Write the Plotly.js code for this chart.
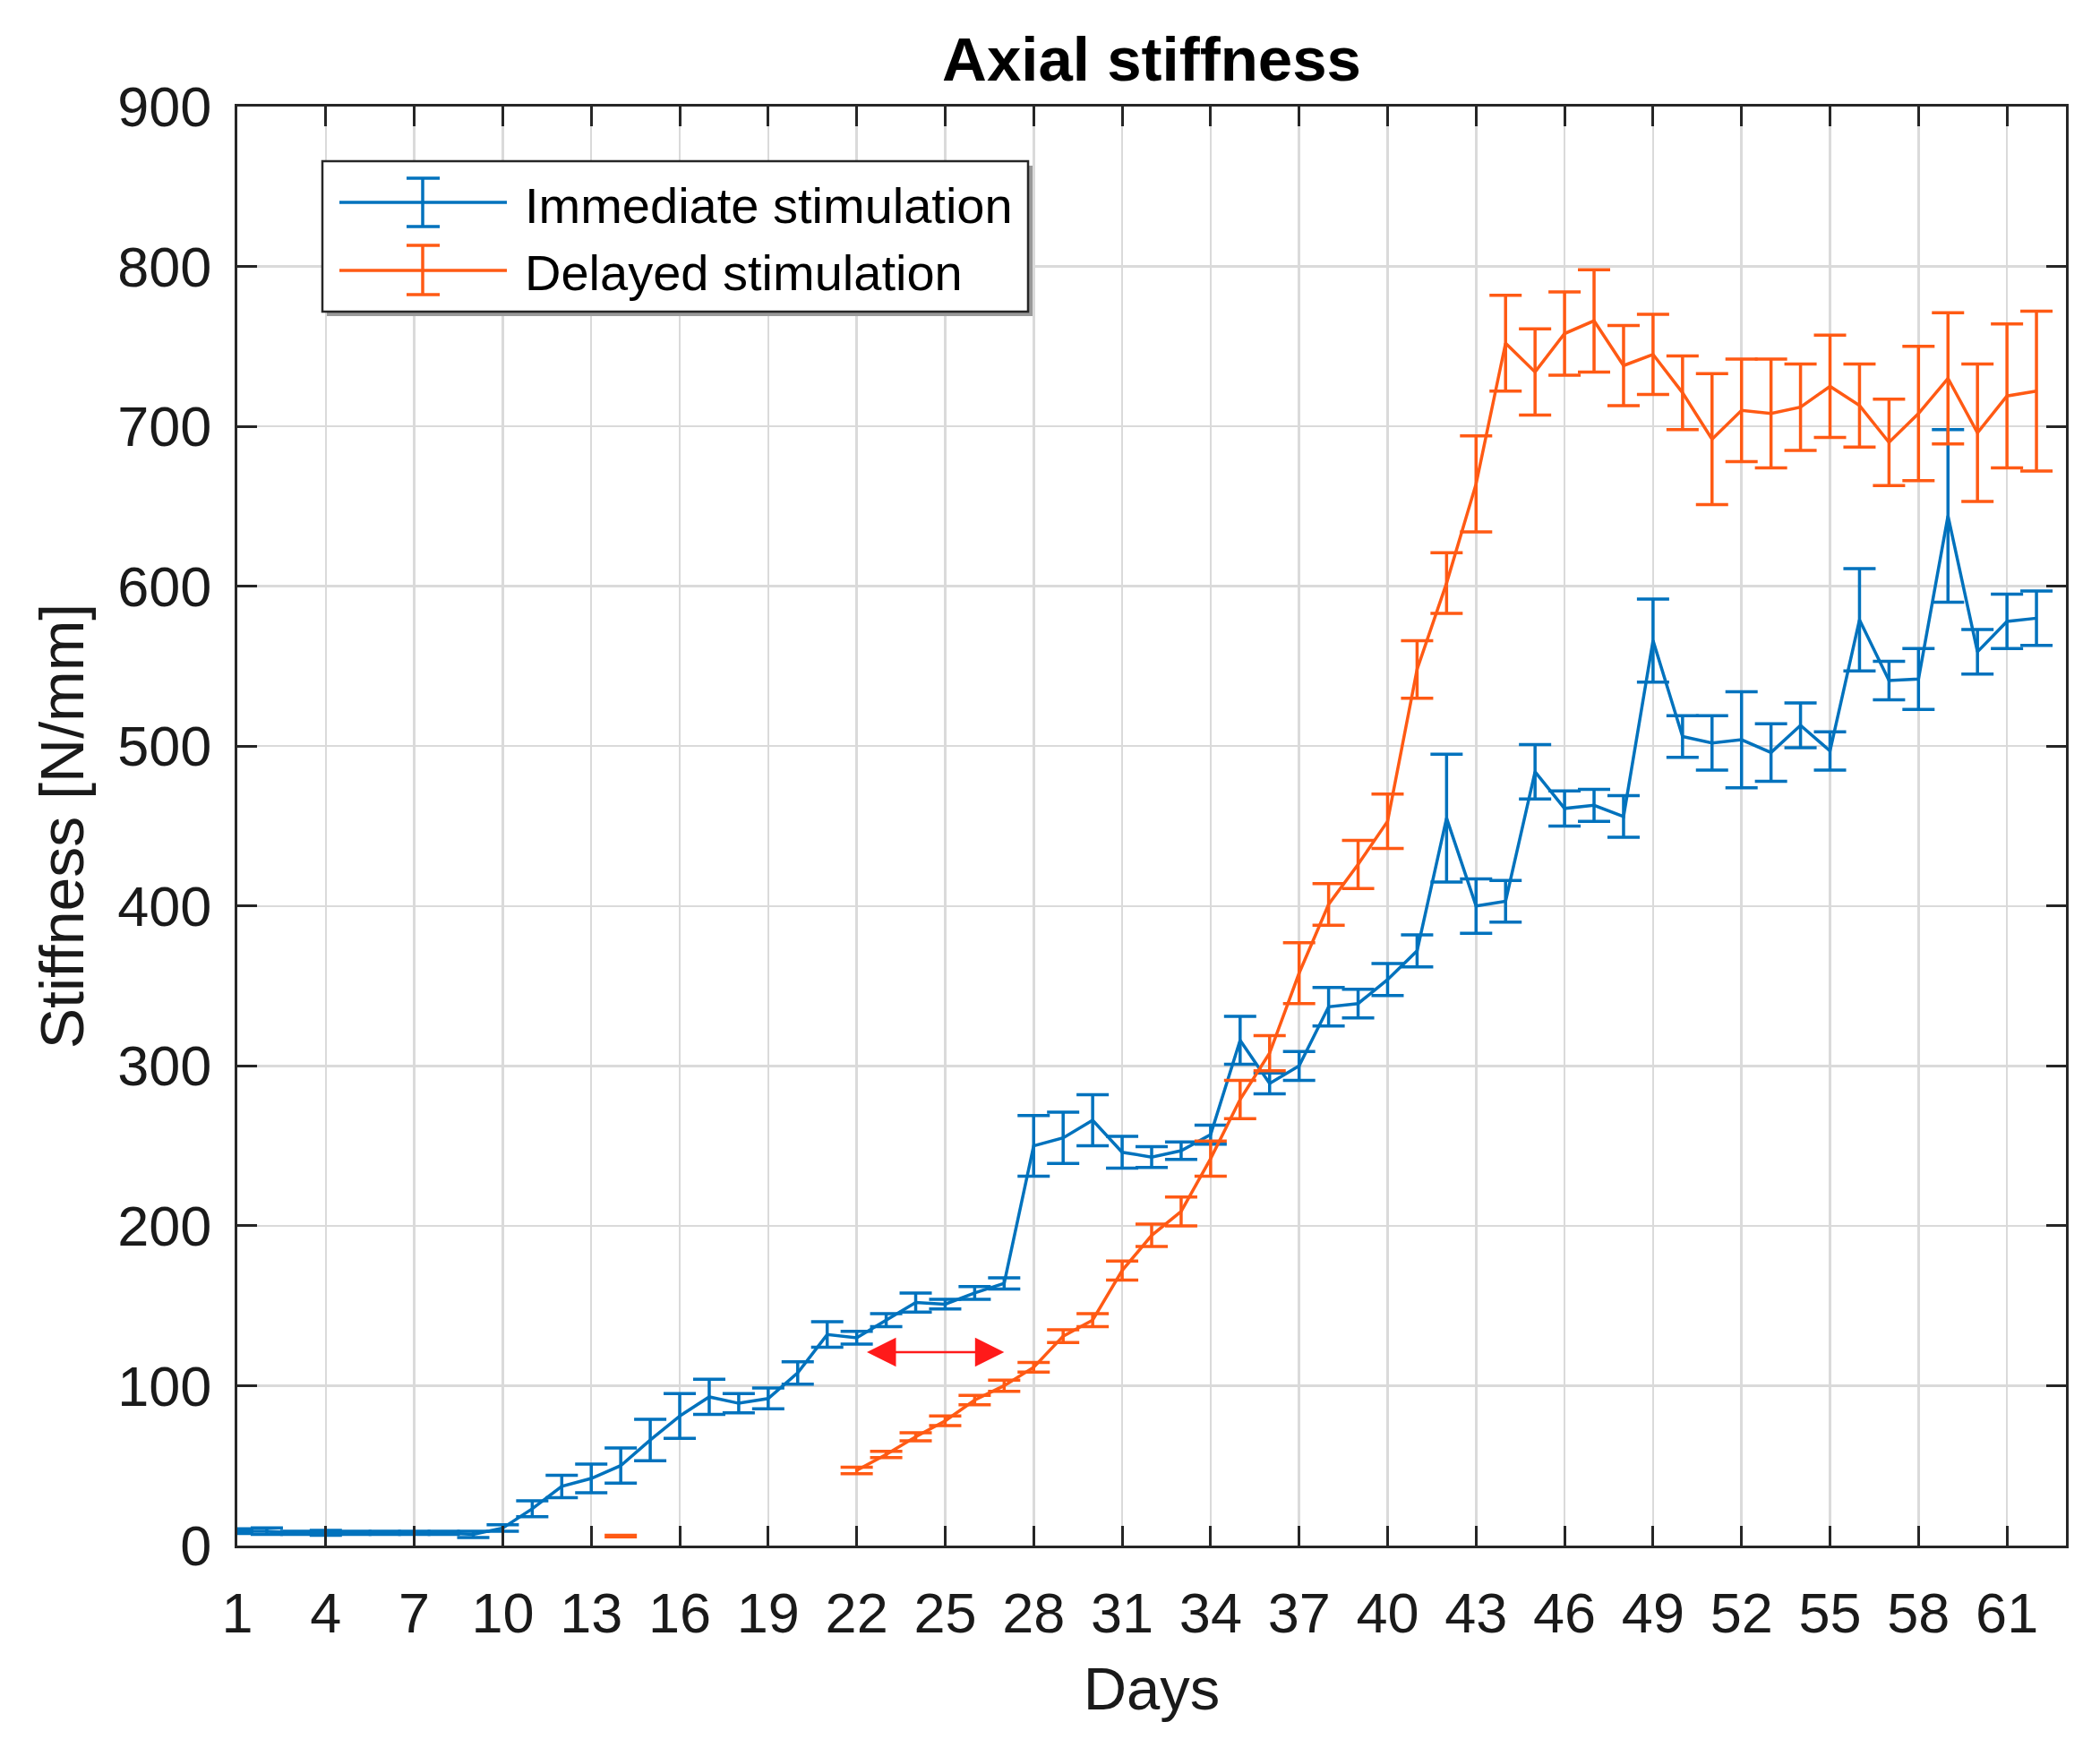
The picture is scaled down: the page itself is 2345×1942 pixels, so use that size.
<!DOCTYPE html>
<html>
<head>
<meta charset="utf-8">
<script src="https://cdn.plot.ly/plotly-3.0.1.min.js"></script>
<style>
  html, body { margin: 0; padding: 0; background: #ffffff; }
  #chart { width: 2345px; height: 1942px; }
</style>
</head>
<body>
<div id="chart"></div>
<script>
// ---------- data ----------
const days = [1,2,3,4,5,6,7,8,9,10,11,12,13,14,15,16,17,18,19,20,21,22,23,24,25,26,27,28,29,30,31,32,33,34,35,36,37,38,39,40,41,42,43,44,45,46,47,48,49,50,51,52,53,54,55,56,57,58,59,60,61,62];

const immediateMean = [9,9,8,8,8,8,8,8,7,11,23,37,42,50,66,81,93,89,92,108,132,130,141,152,151,158,164,250,255,266,246,243,247,257,316,289,300,337,339,354,372,455,400,403,484,461,463,456,566,506,502,504,496,513,497,579,541,542,644,559,578,580];
const immediateErr  = [1.5,2,1,1.5,1,1,1,1,2,2,5,7,9,11,13,14,11,6,6.5,7,8,4,4,6,3,4,3.5,19,16,16,10,6.5,5.5,6,15,6.5,9,12,9,10,10,40,17,13,17,11,10,13,26,13,17,30,18,14,12,32,12,19,54,14,17,17];

const delayedMean = [null,null,null,null,null,null,null,null,null,null,null,null,null,6,null,null,null,null,null,null,null,47,57,68,78,91,100,111.5,131,141,172,194,209,242,279,308,358,401,426,453,548,602,664,752,734,758,766,738,745,721,692,710,708,712,725,713,690,708,730,696,719,722];
const delayedErr  = [0,0,0,0,0,0,0,0,0,0,0,0,0,0.5,0,0,0,0,0,0,0,2,2,2.5,3,3,3.5,3,4,4,6,7,9,11,12,11,19,13,15,17,18,19,30,30,27,26,32,25,25,23,41,32,34,27,32,26,27,42,41,43,45,50];

const seriesNames = ['Immediate stimulation', 'Delayed stimulation'];
const xTickVals = [1,4,7,10,13,16,19,22,25,28,31,34,37,40,43,46,49,52,55,58,61];
const yTickVals = [0,100,200,300,400,500,600,700,800,900];

// delay arrow (days and stiffness level)
const delayArrowDays = [22.3, 27.0];
const delayArrowLevel = 121;

// ---------- styling ----------
const BLUE = '#0072bd';
const ORANGE = '#ff5a14';
const AXIS = '#262626';
const GRID = '#dadada';
const FONT = 'Liberation Sans, Arial, Helvetica, sans-serif';
const LW = 3.5;

const W = 2345, H = 1942;
const M = {l: 265, r: 38, t: 119, b: 216};
const PW = W - M.l - M.r, PH = H - M.t - M.b;
const px = x => (x - M.l) / PW;          // page px -> paper x
const py = y => (H - M.b - y) / PH;      // page px -> paper y

const traces = [
  {
    x: days, y: immediateMean, name: seriesNames[0], type: 'scatter', mode: 'lines',
    line: {color: BLUE, width: LW},
    error_y: {type: 'data', array: immediateErr, visible: true, color: BLUE, thickness: LW, width: 18},
    showlegend: false
  },
  {
    x: days, y: delayedMean, name: seriesNames[1], type: 'scatter', mode: 'lines',
    connectgaps: false,
    line: {color: ORANGE, width: LW},
    error_y: {type: 'data', array: delayedErr, visible: true, color: ORANGE, thickness: LW, width: 18},
    showlegend: false
  }
];

// custom legend with error-bar glyphs
const legendBox = {x0: 360, x1: 1148, y0: 180, y1: 348};
const rows = [
  {color: BLUE, ly: 226, e0: 199, e1: 253, ty: 229, text: seriesNames[0]},
  {color: ORANGE, ly: 302, e0: 274, e1: 329, ty: 305, text: seriesNames[1]}
];
const shapes = [
  {type: 'rect', xref: 'paper', yref: 'paper', layer: 'above',
   x0: px(legendBox.x0 + 5), x1: px(legendBox.x1 + 5), y0: py(legendBox.y0 + 5), y1: py(legendBox.y1 + 5),
   fillcolor: '#9a9a9a', line: {width: 0}},
  {type: 'rect', xref: 'paper', yref: 'paper', layer: 'above',
   x0: px(legendBox.x0), x1: px(legendBox.x1), y0: py(legendBox.y0), y1: py(legendBox.y1),
   fillcolor: '#ffffff', line: {color: AXIS, width: 2.5}}
];
const annotations = [];
rows.forEach(r => {
  shapes.push({type: 'line', xref: 'paper', yref: 'paper', layer: 'above',
    x0: px(379), x1: px(566), y0: py(r.ly), y1: py(r.ly), line: {color: r.color, width: LW}});
  shapes.push({type: 'line', xref: 'paper', yref: 'paper', layer: 'above',
    x0: px(472), x1: px(472), y0: py(r.e0), y1: py(r.e1), line: {color: r.color, width: LW}});
  shapes.push({type: 'line', xref: 'paper', yref: 'paper', layer: 'above',
    x0: px(454), x1: px(491), y0: py(r.e0), y1: py(r.e0), line: {color: r.color, width: LW}});
  shapes.push({type: 'line', xref: 'paper', yref: 'paper', layer: 'above',
    x0: px(454), x1: px(491), y0: py(r.e1), y1: py(r.e1), line: {color: r.color, width: LW}});
  annotations.push({xref: 'paper', yref: 'paper', x: px(584), y: py(r.ty), xanchor: 'left', yanchor: 'middle',
    text: r.text, showarrow: false, font: {family: FONT, size: 56, color: '#000000'}});
});

annotations.push({
  x: delayArrowDays[1], y: delayArrowLevel, xref: 'x', yref: 'y',
  ax: delayArrowDays[0], ay: delayArrowLevel, axref: 'x', ayref: 'y',
  text: '', showarrow: true, arrowhead: 2, startarrowhead: 2, arrowside: 'end+start',
  arrowsize: 2.6, startarrowsize: 2.6, arrowwidth: 2.5, arrowcolor: '#ff1a1a', standoff: 0, startstandoff: 0
});

const layout = {
  width: W, height: H,
  margin: M,
  paper_bgcolor: '#ffffff', plot_bgcolor: '#ffffff',
  font: {family: FONT, color: AXIS},
  title: {
    text: '<b>Axial stiffness</b>',
    font: {family: FONT, size: 69, color: '#000000'},
    x: 0.5, xref: 'paper', xanchor: 'center',
    y: 1 - 66 / H, yref: 'container', yanchor: 'middle'
  },
  xaxis: {
    range: [1, 63], tickmode: 'array', tickvals: xTickVals, ticktext: xTickVals.map(String),
    showgrid: true, gridcolor: GRID, gridwidth: 2.5,
    showline: true, linecolor: AXIS, linewidth: 3, mirror: 'allticks',
    ticks: 'inside', ticklen: 22, tickwidth: 3, tickcolor: AXIS,
    tickfont: {family: FONT, size: 63, color: '#1a1a1a'},
    ticklabelstandoff: 18,
    zeroline: false, automargin: false,
    title: {text: 'Days', font: {family: FONT, size: 67, color: '#1a1a1a'}, standoff: 28}
  },
  yaxis: {
    range: [0, 900], tickmode: 'array', tickvals: yTickVals, ticktext: yTickVals.map(String),
    showgrid: true, gridcolor: GRID, gridwidth: 2.5,
    showline: true, linecolor: AXIS, linewidth: 3, mirror: 'allticks',
    ticks: 'inside', ticklen: 22, tickwidth: 3, tickcolor: AXIS,
    tickfont: {family: FONT, size: 63, color: '#1a1a1a'},
    ticklabelstandoff: 13,
    zeroline: false, automargin: false,
    title: {text: 'Stiffness [N/mm]', font: {family: FONT, size: 68, color: '#1a1a1a'}, standoff: 16}
  },
  shapes: shapes,
  annotations: annotations,
  showlegend: false
};

Plotly.newPlot('chart', traces, layout, {staticPlot: true, displayModeBar: false});
</script>
</body>
</html>
